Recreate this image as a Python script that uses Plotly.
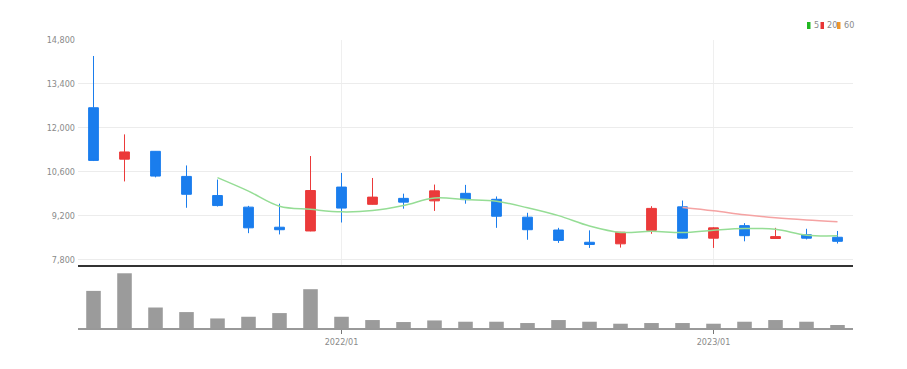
import plotly.graph_objects as go
from plotly.subplots import make_subplots

months = ['2021/05', '2021/06', '2021/07', '2021/08', '2021/09', '2021/10', '2021/11', '2021/12',
          '2022/01', '2022/02', '2022/03', '2022/04', '2022/05', '2022/06', '2022/07', '2022/08',
          '2022/09', '2022/10', '2022/11', '2022/12', '2023/01', '2023/02', '2023/03', '2023/04', '2023/05']
opens = [12640, 11000, 11250, 10450, 9840, 9470, 8830, 8710, 10110, 9560, 9750, 9670, 9910, 9720,
         9150, 8740, 8350, 8300, 8730, 9480, 8480, 8880, 8470, 8590, 8510]
highs = [14290, 11790, 11260, 10800, 10350, 9510, 9580, 11100, 10560, 10400, 9900, 10190, 10180, 9810,
         9290, 8810, 8730, 8680, 9500, 9680, 8830, 8960, 8810, 8780, 8710]
lows = [10940, 10290, 10420, 9450, 9490, 8640, 8600, 8700, 8980, 9550, 9420, 9350, 9580, 8810,
        8430, 8330, 8170, 8180, 8620, 8470, 8170, 8380, 8460, 8440, 8310]
closes = [10960, 11230, 10460, 9880, 9520, 8810, 8750, 10000, 9440, 9790, 9630, 9990, 9710, 9180,
          8750, 8410, 8280, 8670, 9430, 8480, 8810, 8560, 8530, 8480, 8380]
ma5 = [None, None, None, None, 10410, 9980, 9500, 9400, 9320, 9360, 9520, 9760, 9710, 9660,
       9450, 9200, 8870, 8665, 8700, 8660, 8735, 8790, 8762, 8575, 8555]
ma20 = [None] * 19 + [9460, 9355, 9230, 9130, 9060, 9005]
volumes = [3730000, 5500000, 2060000, 1600000, 960000, 1130000, 1500000, 3900000, 1130000, 800000,
           600000, 760000, 630000, 630000, 500000, 800000, 630000, 430000, 500000, 500000,
           430000, 630000, 800000, 630000, 300000]
price_ticks = [7800, 9200, 10600, 12000, 13400, 14800]
x_ticks = ['2022/01', '2023/01']
legend_labels = ['5', '20', '60']
legend_colors = ['#22b822', '#e83535', '#f0962a']

RED = '#eb3a3a'
BLUE = '#1a7ded'
FONT = 'Liberation Sans Narrow, DejaVu Sans Condensed, Arial Narrow, Roboto, sans-serif'

fig = make_subplots(rows=2, cols=1, shared_xaxes=False, vertical_spacing=0.0)

fig.add_trace(go.Candlestick(
    x=months, open=opens, high=highs, low=lows, close=closes,
    increasing=dict(line=dict(color=RED, width=1), fillcolor=RED),
    decreasing=dict(line=dict(color=BLUE, width=1), fillcolor=BLUE),
    whiskerwidth=0, showlegend=False, hoverinfo='x+y'), row=1, col=1)

fig.add_trace(go.Scatter(x=months, y=ma5, mode='lines', line=dict(color='#95dd95', width=1.5, shape='spline'),
                         showlegend=False, connectgaps=False), row=1, col=1)
fig.add_trace(go.Scatter(x=months, y=ma20, mode='lines', line=dict(color='#f5a3a3', width=1.5, shape='spline'),
                         showlegend=False), row=1, col=1)

fig.add_trace(go.Bar(x=months, y=volumes, marker=dict(color='#9b9b9b', line=dict(width=0)),
                     showlegend=False), row=2, col=1)

# the page body adds an 8px offset, so margins are set in figure pixels
OFF = 8
W, H = 907, 369
L, R, T = 78 - OFF, 907 - 853 + OFF, 40 - OFF
B = H - (328 - OFF)
plot_h = H - T - B
price_bottom = (H - B - (265 - OFF)) / plot_h
vol_top = (H - B - (270 - OFF)) / plot_h

fig.update_layout(
    width=W, height=H,
    margin=dict(l=L, r=R, t=T, b=B, autoexpand=False),
    paper_bgcolor='white', plot_bgcolor='white',
    boxgap=0.55, bargap=0.53,
    font=dict(family=FONT, size=9, color='#8a8a8a'),
    xaxis=dict(type='category', categoryorder='array', categoryarray=months,
               range=[-0.5, 24.5], rangeslider=dict(visible=False),
               tickvals=x_ticks, showticklabels=False, showgrid=True, gridcolor='#efefef',
               showline=True, linecolor='#333333', linewidth=2, ticks='', zeroline=False,
               domain=[0, 1], anchor='y'),
    yaxis=dict(domain=[price_bottom, 1], range=[7625, 14800], tickvals=price_ticks,
               tickformat=',d', showgrid=True, gridcolor='#ececec', zeroline=False,
               showline=False, ticks='', ticklabelstandoff=2,
               tickfont=dict(family=FONT, size=9, color='#8a8a8a')),
    xaxis2=dict(type='category', categoryorder='array', categoryarray=months,
                range=[-0.5, 24.5], tickvals=x_ticks, showgrid=False,
                showline=True, linecolor='#999999', linewidth=2, ticks='outside', ticklen=4,
                tickcolor='#777777', tickwidth=1, zeroline=False,
                tickfont=dict(family=FONT, size=9, color='#8a8a8a'), anchor='y2'),
    yaxis2=dict(domain=[0, vol_top], range=[0, 5830000], showticklabels=False, showgrid=False,
                zeroline=False, showline=False, ticks=''),
)

def px_to_paper_x(px):
    return (px - OFF - L) / (W - L - R)

def px_to_paper_y(py):
    return (H - B - (py - OFF)) / plot_h

sq_x = [807, 820.5, 837]
txt_x = [811.5, 825, 841.5]
for i, lab in enumerate(legend_labels):
    fig.add_shape(type='rect', xref='paper', yref='paper',
                  x0=px_to_paper_x(sq_x[i]), x1=px_to_paper_x(sq_x[i] + 3.5),
                  y0=px_to_paper_y(29), y1=px_to_paper_y(22),
                  fillcolor=legend_colors[i], line=dict(width=0))
    fig.add_annotation(x=px_to_paper_x(txt_x[i]), y=px_to_paper_y(25.5), xref='paper', yref='paper',
                       text=lab, showarrow=False, xanchor='left', yanchor='middle',
                       font=dict(family=FONT, size=9, color='#8a8a8a'))

fig.write_html('out.html')
